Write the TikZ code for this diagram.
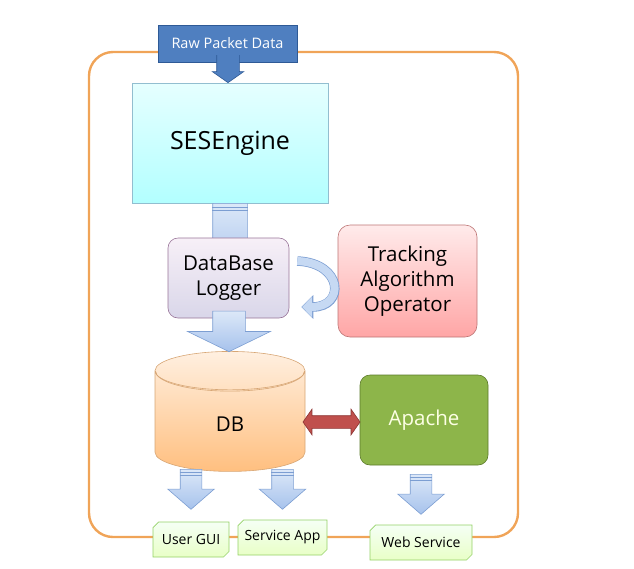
\documentclass[tikz,border=0pt]{standalone}
\usepackage{fontspec}
\setmainfont{Open Sans}
\usetikzlibrary{shapes.geometric,shapes.arrows,shapes.misc,arrows.meta,calc}
\definecolor{frameor}{HTML}{F0A458}
\definecolor{rawblue}{HTML}{4F7FC0}
\definecolor{rawedge}{HTML}{2E5A96}
\definecolor{arrowtop}{HTML}{DCE8F8}
\definecolor{arrowbot}{HTML}{A6C2EC}
\definecolor{arrowedge}{HTML}{7C9ED2}
\definecolor{lnkred}{HTML}{C0504D}
\definecolor{lnkedge}{HTML}{8C3432}
\definecolor{apagreen}{HTML}{8DB54A}
\definecolor{apaedge}{HTML}{5C7A2A}
\tikzset{
  box/.style={draw, line width=0.6pt, inner sep=2pt, align=center},
  dnarrow/.style={single arrow, shape border rotate=270, draw=arrowedge, line width=0.6pt,
    top color=arrowtop, bottom color=arrowbot, inner sep=10.5pt,
    single arrow head extend=12.5pt, single arrow tip angle=98, minimum height=40pt},
  outbox/.style={box, chamfered rectangle, chamfered rectangle corners={north west,south east},
    chamfered rectangle xsep=2pt, draw=green!40!olive!60, top color=green!4!white, bottom color=green!40!yellow!22,
    minimum height=35pt, font=\fontsize{14}{16}\selectfont},
}
\begin{document}
\begin{tikzpicture}[x=1pt, y=-1pt]
\useasboundingbox (0,0) rectangle (634,568);
% frame
\draw [frameor, line width=2.4pt, rounded corners=24pt] (89,52) rectangle (518,537);
% input
\node [box, draw=rawedge, fill=rawblue, text=white, minimum width=139pt, minimum height=37pt,
  font=\fontsize{14.5}{16}\selectfont] (raw) at (227.5,43.5) {Raw Packet Data};
\node [single arrow, shape border rotate=270, fill=rawblue, draw=rawedge, line width=0.6pt, inner sep=11pt,
  single arrow head extend=4.5pt, single arrow tip angle=110, minimum height=26pt, anchor=tip] (rawarr) at (228,83) {};
\fill [rawblue] ([xshift=-10.4pt,yshift=1pt]rawarr.before tail) rectangle ([xshift=10.4pt,yshift=-3pt]rawarr.after tail);
% engine
\node [box, draw=cyan!45!gray!70, top color=cyan!10!white, bottom color=cyan!30!white,
  minimum width=196pt, minimum height=120pt, font=\fontsize{25}{28}\selectfont] (eng) at (230,143) {SESEngine};
\node [dnarrow, inner sep=17pt, single arrow head extend=12pt, minimum height=72pt, anchor=tail] (a1) at (230,203) {};
\draw [arrowedge] ([yshift=-4pt]a1.before tail) -- ([yshift=-4pt]a1.after tail);
\draw [arrowedge] ([yshift=-7pt]a1.before tail) -- ([yshift=-7pt]a1.after tail);
% logger
\node [box, draw=violet!35!gray!80, top color=violet!6!white, bottom color=violet!25!blue!10!white!85!gray,
  rounded corners=10pt, minimum width=121pt, minimum height=80pt, font=\fontsize{20.5}{25}\selectfont] (log) at (228.5,278) {DataBase\\Logger};
% tracking
\node [box, draw=red!35!gray!80, top color=red!8!white, bottom color=red!35!white,
  rounded corners=12pt, minimum width=139pt, minimum height=112pt, font=\fontsize{20.5}{25}\selectfont] (trk) at (407.5,281) {Tracking\\Algorithm\\Operator};
\draw [arrowedge, line width=9.5pt, -{Triangle[width=23pt, length=12pt]}]
  ([xshift=8pt,yshift=17pt]log.east) .. controls +(46,2) and +(44,0) .. ([xshift=12pt,yshift=-29pt]log.east);
\draw [arrowtop!60!arrowbot, line width=8pt, -{Triangle[width=20pt, length=10pt]}, shorten >=0.8pt]
  ([xshift=8pt,yshift=17pt]log.east) .. controls +(46,2) and +(44,0) .. ([xshift=12pt,yshift=-29pt]log.east);
% store
\node [cylinder, shape border rotate=90, aspect=1.1, draw=orange!55!gray!70, line width=0.6pt,
  top color=orange!12!white, bottom color=orange!50!white, minimum width=150pt, minimum height=120pt,
  font=\fontsize{20.5}{25}\selectfont] (db) at (230,424) {DB};
\draw [orange!55!gray!70, line width=0.6pt] ([xshift=-74.5pt,yshift=-20pt]db.north)
  arc [start angle=180, end angle=360, x radius=74.5pt, y radius=20pt];
\node [dnarrow, inner sep=16pt, single arrow head extend=25pt, single arrow tip angle=128, minimum height=40pt, anchor=tip] (a2) at (229,352) {};
\node [box, draw=apaedge, fill=apagreen, rounded corners=10pt, minimum width=128pt, minimum height=90pt,
  text=green!8!yellow!10!white, font=\fontsize{20.5}{25}\selectfont] (apa) at (424,420) {Apache};
\node [double arrow, draw=lnkedge, fill=lnkred, line width=0.6pt, inner sep=6pt, double arrow head extend=6.5pt,
  double arrow tip angle=110, minimum height=57pt] (lnk) at (331.5,422) {};
% outputs
\node [outbox, minimum width=76pt] (gui) at (191,539.5) {User GUI};
\node [outbox, minimum width=89pt] (sapp) at (282.5,537.5) {Service App};
\node [outbox, minimum width=102pt] (web) at (421,542.5) {Web Service};
\foreach \a/\b/\g in {a3/gui/12pt, a4/sapp/10pt, a5/web/10pt} {
  \node [dnarrow, anchor=tip] (\a) at ([yshift=\g]\b.north) {};
  \draw [arrowedge] ([yshift=-3pt]\a.before tail) -- ([yshift=-3pt]\a.after tail);
  \draw [arrowedge] ([yshift=-6pt]\a.before tail) -- ([yshift=-6pt]\a.after tail);
}
\end{tikzpicture}
\end{document}
